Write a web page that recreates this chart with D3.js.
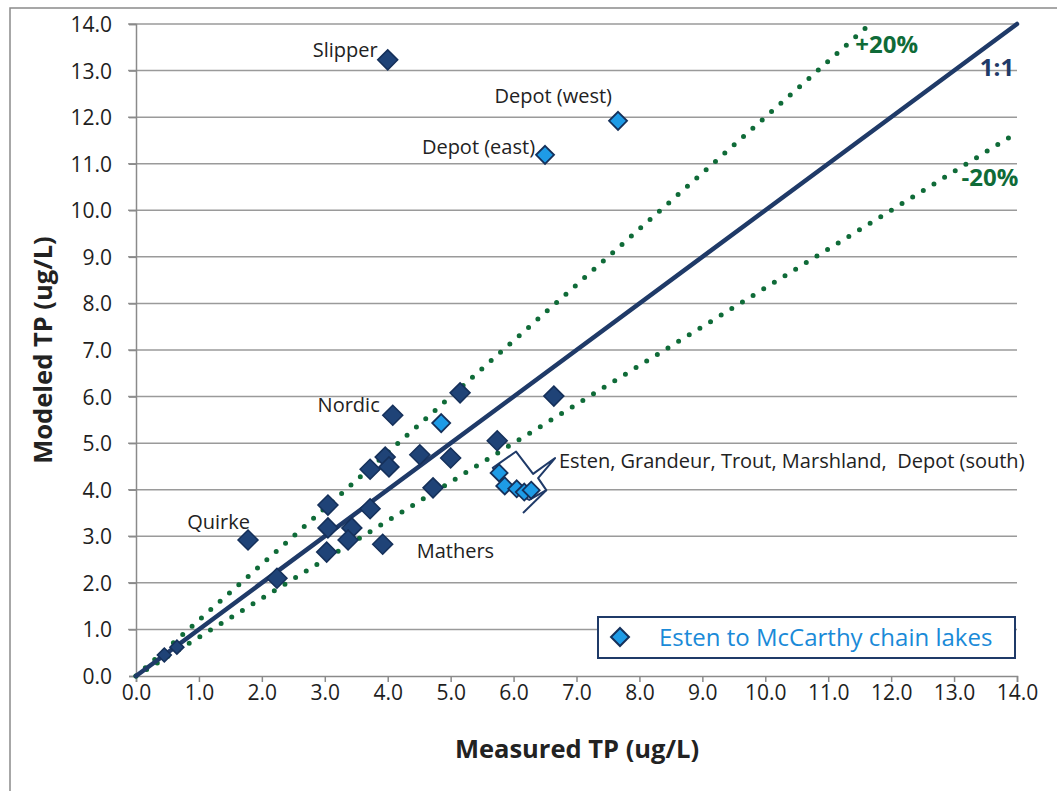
<!DOCTYPE html>
<html>
<head>
<meta charset="utf-8">
<script src="https://cdn.jsdelivr.net/npm/d3@7"></script>
<style>
  body { margin: 0; background: #fff; }
  svg { display: block; }
</style>
</head>
<body>
<div id="chart"></div>
<script>
// measured (x) vs modeled (y) TP, ug/L
var darkX = [4.00, 1.78, 4.08, 5.15, 6.64, 5.74, 3.96, 4.02, 3.72, 4.51, 5.00, 4.72, 3.05, 3.05, 3.72, 3.43, 3.37, 3.03, 3.92, 2.24, 0.45, 0.65];
var darkY = [13.23, 2.92, 5.60, 6.08, 6.01, 5.05, 4.70, 4.49, 4.44, 4.75, 4.68, 4.04, 3.67, 3.18, 3.59, 3.18, 2.92, 2.66, 2.83, 2.10, 0.45, 0.62];

// Esten to McCarthy chain lakes
var chainX = [7.66, 6.50, 4.85, 5.77, 5.86, 6.05, 6.17, 6.28];
var chainY = [11.92, 11.19, 5.43, 4.36, 4.08, 4.02, 3.95, 3.99];

var ticks = [0, 1, 2, 3, 4, 5, 6, 7, 8, 9, 10, 11, 12, 13, 14];

var pointLabels = [
  {text: "Slipper", x: 4.00, y: 13.23, dx: -10, dy: -3, anchor: "end"},
  {text: "Depot (west)", x: 7.66, y: 11.92, dx: -6, dy: -18, anchor: "end"},
  {text: "Depot (east)", x: 6.50, y: 11.19, dx: -10, dy: -1, anchor: "end"},
  {text: "Nordic", x: 4.08, y: 5.60, dx: -13, dy: -3, anchor: "end"},
  {text: "Quirke", x: 1.78, y: 2.92, dx: 2, dy: -11, anchor: "end"},
  {text: "Mathers", x: 3.92, y: 2.83, dx: 34, dy: 14, anchor: "start"},
  {text: "Esten, Grandeur, Trout, Marshland,  Depot (south)", x: 6.72, y: 4.49, dx: 0, dy: 1, anchor: "start"}
];

var w = 1057, h = 791;
var svg = d3.select("#chart").append("svg").attr("width", w).attr("height", h);

// outer frame
svg.append("rect").attr("x", 10).attr("y", 8).attr("width", 1100).attr("height", 900)
  .attr("fill", "none").attr("stroke", "#8a8a8a").attr("stroke-width", 1.5);

var x = d3.scaleLinear().domain([0, 14]).range([136, 1017]);
var y = d3.scaleLinear().domain([0, 14]).range([676, 24]);

// gridlines
svg.append("g").selectAll("line").data(ticks.slice(1)).enter().append("line")
  .attr("x1", 128).attr("x2", x(14))
  .attr("y1", function(d) { return y(d); }).attr("y2", function(d) { return y(d); })
  .attr("stroke", "#9a9a9a").attr("stroke-width", 1.5);

// y axis
var yAxis = svg.append("g").attr("transform", "translate(" + x(0) + ",0)")
  .call(d3.axisLeft(y).tickValues(ticks).tickFormat(d3.format(".1f")).tickSize(7).tickPadding(17));
// x axis
var xAxis = svg.append("g").attr("transform", "translate(0," + y(0) + ")")
  .call(d3.axisBottom(x).tickValues(ticks).tickFormat(d3.format(".1f")).tickSize(6).tickPadding(3));

[xAxis, yAxis].forEach(function(g) {
  g.select(".domain").attr("stroke", "#8a8a8a").attr("stroke-width", 1.5);
  g.selectAll(".tick line").attr("stroke", "#8a8a8a").attr("stroke-width", 1.5);
  g.selectAll(".tick text").attr("font-family", "Open Sans").attr("font-size", 21)
    .attr("fill", "#1e1e1e");
});
yAxis.selectAll(".tick text").attr("dy", "0.36em");

// axis titles
svg.append("text").attr("x", 577).attr("y", 758).attr("text-anchor", "middle")
  .attr("font-family", "Open Sans").attr("font-weight", "bold").attr("font-size", 25.5)
  .attr("fill", "#222").text("Measured TP (ug/L)");
svg.append("text").attr("transform", "translate(52,350) rotate(-90)").attr("text-anchor", "middle")
  .attr("font-family", "Open Sans").attr("font-weight", "bold").attr("font-size", 25.5)
  .attr("fill", "#222").text("Modeled TP (ug/L)");

// reference lines
var refLines = [
  {x2: 14 / 1.2, y2: 14, color: "#0f6b38", dotted: true},
  {x2: 14, y2: 14 / 1.2, color: "#0f6b38", dotted: true},
  {x2: 14, y2: 14, color: "#1f3a68", dotted: false}
];
svg.append("g").selectAll("line").data(refLines).enter().append("line")
  .attr("x1", x(0)).attr("y1", y(0))
  .attr("x2", function(d) { return x(d.x2); }).attr("y2", function(d) { return y(d.y2); })
  .attr("stroke", function(d) { return d.color; })
  .attr("stroke-width", function(d) { return d.dotted ? 5 : 4.5; })
  .attr("stroke-linecap", "round")
  .attr("stroke-dasharray", function(d) { return d.dotted ? "0 12.5" : null; });

var diamond = function(r) {
  return "M0," + (-r) + "L" + r + ",0L0," + r + "L" + (-r) + ",0Z";
};

// dark points
svg.append("g").selectAll("path").data(darkX).enter().append("path")
  .attr("d", function(d, i) { return diamond(i < 20 ? 10 : 7); })
  .attr("transform", function(d, i) { return "translate(" + x(d) + "," + y(darkY[i]) + ")"; })
  .attr("fill", "#1f4377").attr("stroke", "#15305a").attr("stroke-width", 1.5);

// callout around the cluster
var callout = [[5.67, 4.47], [6.04, 4.82], [6.31, 4.34], [6.66, 4.68], [6.39, 4.25], [6.52, 3.99], [6.25, 3.78], [5.85, 4.05]];
svg.append("path")
  .attr("d", d3.line().x(function(d) { return x(d[0]); }).y(function(d) { return y(d[1]); })(callout) + "Z")
  .attr("fill", "#fff").attr("stroke", "#1f3a68").attr("stroke-width", 2).attr("stroke-linejoin", "round");
svg.append("line").attr("x1", x(6.52)).attr("y1", y(3.99)).attr("x2", x(6.15)).attr("y2", y(3.50))
  .attr("stroke", "#1f3a68").attr("stroke-width", 2);

// chain lake points
svg.append("g").selectAll("path").data(chainX).enter().append("path")
  .attr("d", function(d, i) { return diamond(i < 3 ? 9 : 8.5); })
  .attr("transform", function(d, i) { return "translate(" + x(d) + "," + y(chainY[i]) + ")"; })
  .attr("fill", "#1e9be6").attr("stroke", "#15305a").attr("stroke-width", 1.8);

// point labels
svg.append("g").selectAll("text").data(pointLabels).enter().append("text")
  .attr("x", function(d) { return x(d.x) + d.dx; })
  .attr("y", function(d) { return y(d.y) + d.dy; })
  .attr("text-anchor", function(d) { return d.anchor; })
  .attr("font-family", "Open Sans").attr("font-size", 20).attr("fill", "#222")
  .style("white-space", "pre")
  .text(function(d) { return d.text; });

// line labels
var lineLabels = [
  {text: "+20%", x: 11.43, y: 13.38, color: "#0f6b38"},
  {text: "1:1", x: 13.41, y: 12.88, color: "#1f3a68"},
  {text: "-20%", x: 13.12, y: 10.52, color: "#0f6b38"}
];
svg.append("g").selectAll("text").data(lineLabels).enter().append("text")
  .attr("x", function(d) { return x(d.x); }).attr("y", function(d) { return y(d.y); })
  .attr("font-family", "Open Sans").attr("font-weight", "bold").attr("font-size", 24)
  .attr("fill", function(d) { return d.color; }).text(function(d) { return d.text; });

// legend
var lg = svg.append("g");
lg.append("rect").attr("x", 598).attr("y", 617).attr("width", 417).attr("height", 41)
  .attr("fill", "#fff").attr("stroke", "#1f3a68").attr("stroke-width", 2);
lg.append("path").attr("d", diamond(9)).attr("transform", "translate(620,637)")
  .attr("fill", "#1e9be6").attr("stroke", "#15305a").attr("stroke-width", 2);
lg.append("text").attr("x", 659).attr("y", 646)
  .attr("font-family", "Open Sans").attr("font-size", 24).attr("fill", "#1a8ad8")
  .text("Esten to McCarthy chain lakes");
</script>
</body>
</html>
